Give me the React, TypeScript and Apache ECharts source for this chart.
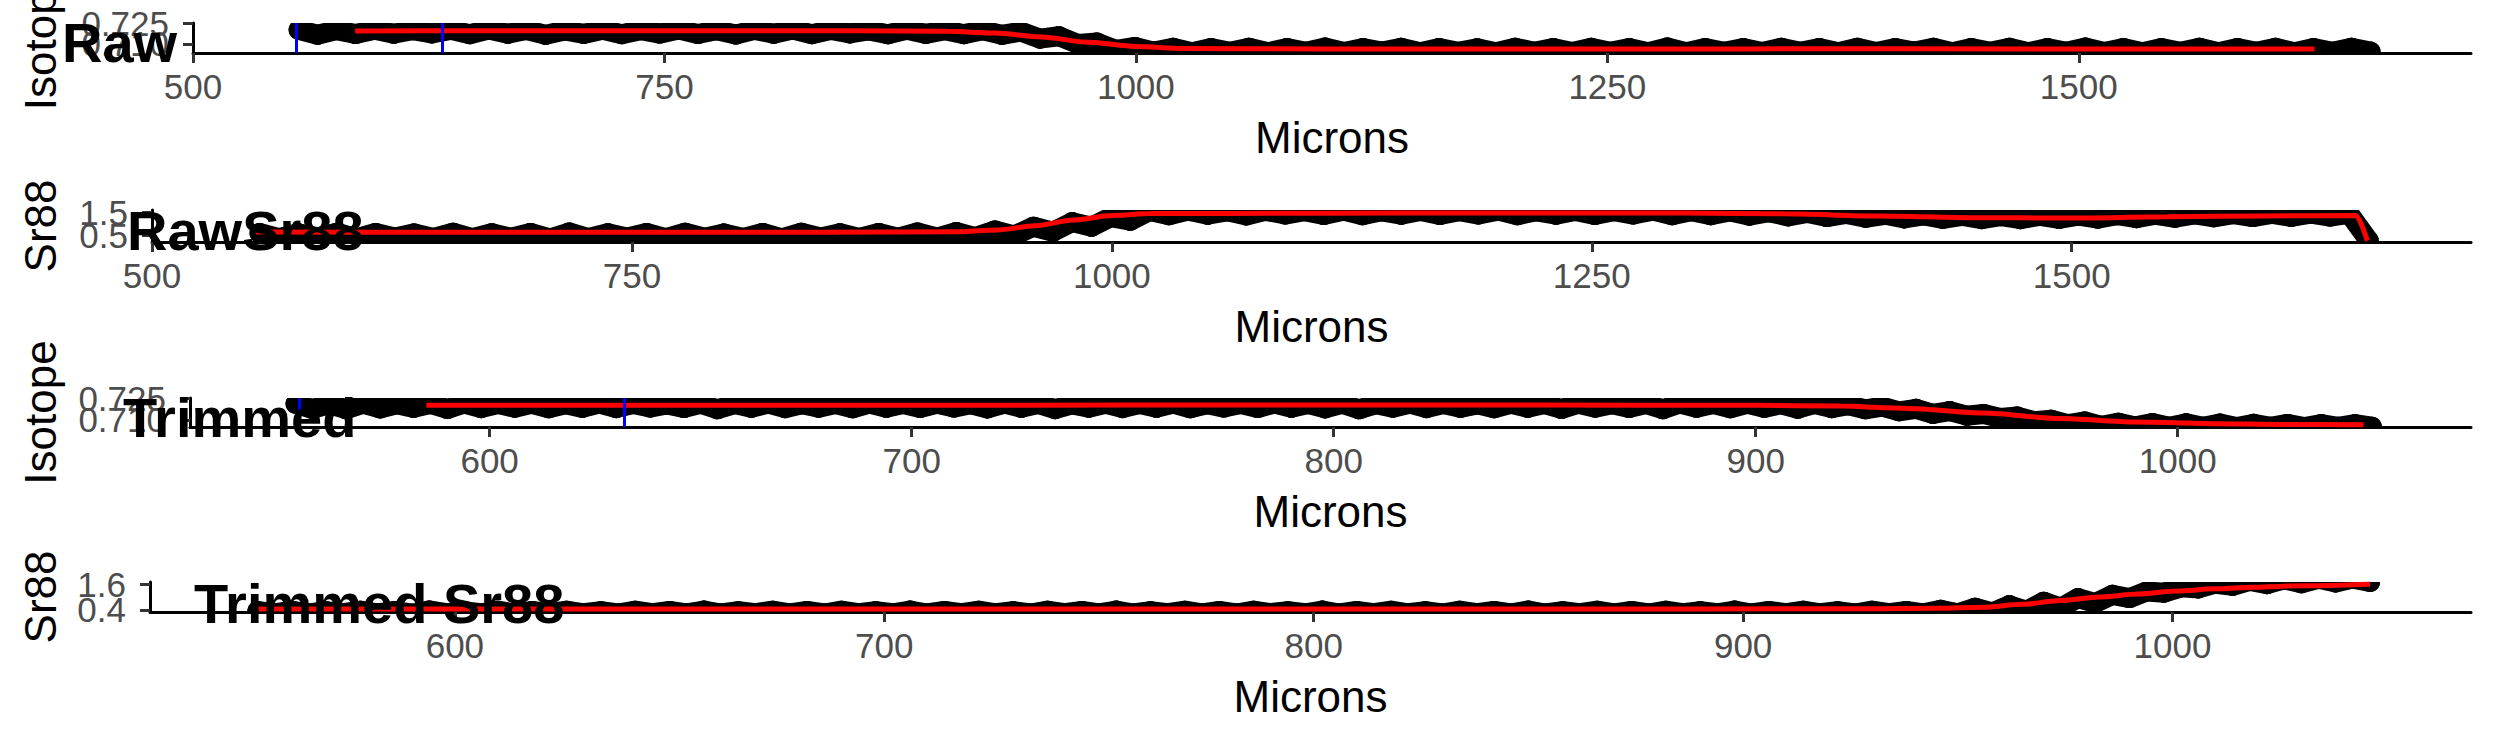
import React, { useEffect, useRef } from "react";
import * as echarts from "echarts";

const FONT = "'Liberation Sans', Arial, Helvetica, sans-serif";

// ---------- data ----------
const RAW_START = 556;
const RAW_STEP = 10.08;
const TRIM_START = 554;
const TRIM_STEP = 4;

const rawIsotope = [
  0.7201, 0.7166, 0.7199, 0.7171, 0.7202, 0.7173, 0.7198, 0.7175, 0.7201, 0.717,
  0.7203, 0.7173, 0.72, 0.7165, 0.7197, 0.7172, 0.7202, 0.717, 0.7199, 0.7174,
  0.7203, 0.7171, 0.7198, 0.7167, 0.7201, 0.7173, 0.7203, 0.717, 0.72, 0.7175,
  0.7197, 0.7169, 0.7202, 0.7172, 0.7199, 0.717, 0.7198, 0.7165,
  0.7188, 0.7138, 0.7155, 0.71, 0.711, 0.7058, 0.7078,
  0.7045, 0.7072, 0.7041, 0.707, 0.7043, 0.7073, 0.704, 0.7071, 0.7044, 0.7074,
  0.7042, 0.707, 0.7045, 0.7072, 0.7041, 0.7071, 0.7043, 0.7069, 0.704, 0.7073,
  0.7044, 0.7071, 0.7042, 0.7072, 0.7043, 0.707, 0.7041, 0.7074, 0.704, 0.7071,
  0.7044, 0.707, 0.7042, 0.7073, 0.7043, 0.7071, 0.704, 0.7072, 0.7042, 0.707,
  0.7045, 0.7073, 0.7041, 0.7071, 0.7043, 0.7072, 0.704, 0.707, 0.7044, 0.7074,
  0.7042, 0.7071, 0.7041, 0.707, 0.7043, 0.7073, 0.704, 0.7071, 0.7044, 0.7072,
  0.7041, 0.707, 0.7043, 0.7073, 0.7045,
];

const rawSr88 = [
  0.59, 0.36, 0.58, 0.38, 0.6, 0.35, 0.59, 0.39, 0.57, 0.37,
  0.6, 0.36, 0.58, 0.38, 0.59, 0.35, 0.61, 0.37, 0.58, 0.39,
  0.59, 0.36, 0.6, 0.38, 0.57, 0.37, 0.59, 0.35, 0.6, 0.39,
  0.58, 0.37, 0.59, 0.38, 0.61, 0.39, 0.63, 0.41,
  0.7, 0.48, 0.86, 0.64, 1.06, 0.86, 1.28, 1.12,
  1.54, 1.36, 1.56, 1.38, 1.53, 1.35, 1.55, 1.39, 1.54, 1.37,
  1.56, 1.36, 1.53, 1.38, 1.55, 1.37, 1.54, 1.39, 1.56, 1.36,
  1.53, 1.38, 1.55, 1.37, 1.54, 1.39, 1.56, 1.36, 1.53, 1.36,
  1.52, 1.34, 1.49, 1.31,
  1.46, 1.28, 1.42, 1.25, 1.38, 1.22, 1.35, 1.2, 1.33, 1.19,
  1.32, 1.19, 1.33, 1.2, 1.34, 1.21, 1.36, 1.23, 1.38, 1.25,
  1.4, 1.27, 1.41, 1.28, 1.42, 1.29, 1.43, 1.3, 1.42, 0.26,
];

const trimmedIsotope = [
  0.721, 0.7174, 0.7208, 0.7172, 0.7211, 0.7178, 0.7207, 0.7182, 0.7209, 0.7174,
  0.7212, 0.718, 0.7208, 0.7183, 0.721, 0.7179, 0.7207, 0.7182, 0.7211, 0.718,
  0.7209, 0.7184, 0.7206, 0.7181, 0.721, 0.7172, 0.7208, 0.7182, 0.7211, 0.718,
  0.7207, 0.7183, 0.7209, 0.7179, 0.7212, 0.7182, 0.7208, 0.7181, 0.721, 0.7184,
  0.7207, 0.7178, 0.7211, 0.7182, 0.7209, 0.7173, 0.7206, 0.7183, 0.721, 0.718,
  0.7208, 0.7182, 0.7211, 0.7179, 0.7207, 0.7184, 0.7209, 0.7181, 0.7212, 0.7182,
  0.7208, 0.7178, 0.721, 0.7172, 0.7207, 0.7183, 0.7211, 0.718, 0.7209, 0.7182,
  0.7206, 0.7179, 0.721, 0.7182, 0.7208, 0.7174, 0.7211, 0.7183, 0.7207, 0.7181,
  0.7209, 0.7172, 0.7212, 0.7182, 0.7208, 0.7179, 0.721, 0.7182, 0.7207, 0.7176,
  0.7209, 0.718, 0.72, 0.7172, 0.719, 0.7158, 0.7175, 0.714, 0.716, 0.7128,
  0.714, 0.7112, 0.7122, 0.709, 0.71, 0.707, 0.7088, 0.7058, 0.708, 0.7054,
  0.7077, 0.7052, 0.7075, 0.7051, 0.7074, 0.705, 0.7072, 0.7051, 0.7071, 0.705,
  0.707, 0.7051, 0.7069, 0.7052,
];

const trimmedSr88 = [
  0.35, 0.24, 0.36, 0.23, 0.34, 0.25, 0.36, 0.24, 0.35, 0.22,
  0.37, 0.25, 0.34, 0.24, 0.36, 0.23, 0.35, 0.25, 0.36, 0.24,
  0.34, 0.23, 0.36, 0.25, 0.35, 0.24, 0.37, 0.23, 0.34, 0.25,
  0.36, 0.24, 0.35, 0.23, 0.36, 0.25, 0.34, 0.24, 0.37, 0.23,
  0.35, 0.25, 0.36, 0.24, 0.34, 0.23, 0.36, 0.25, 0.35, 0.24,
  0.37, 0.23, 0.34, 0.25, 0.36, 0.24, 0.35, 0.23, 0.36, 0.25,
  0.34, 0.24, 0.37, 0.23, 0.35, 0.25, 0.36, 0.24, 0.34, 0.23,
  0.36, 0.25, 0.35, 0.24, 0.37, 0.23, 0.34, 0.25, 0.36, 0.24,
  0.35, 0.23, 0.36, 0.25, 0.34, 0.24, 0.37, 0.23, 0.35, 0.25,
  0.36, 0.24, 0.34, 0.23, 0.36, 0.25, 0.35, 0.24,
  0.4, 0.24, 0.5, 0.28, 0.62, 0.36, 0.78, 0.5, 0.95, 0.72,
  1.1, 0.95, 1.26, 1.2, 1.45, 1.4, 1.62, 1.52, 1.75, 1.6,
  1.82, 1.64, 1.85, 1.68, 1.86, 1.7,
];

// smoothed fits (red)
const rawIsotopeFitX = [586, 650, 750, 850, 900, 925, 950, 975, 1000, 1025, 1100, 1250, 1400, 1550, 1625];
const rawIsotopeFitY = [0.7193, 0.7194, 0.7195, 0.7194, 0.719, 0.7178, 0.715, 0.7112, 0.7082, 0.7068, 0.7064, 0.7064, 0.7065, 0.7064, 0.7064];

const rawSr88FitX = [554, 650, 750, 850, 920, 940, 960, 980, 1000, 1020, 1100, 1200, 1300, 1350, 1400, 1450, 1500, 1550, 1600, 1648, 1654];
const rawSr88FitY = [0.63, 0.62, 0.62, 0.62, 0.64, 0.72, 0.9, 1.15, 1.35, 1.43, 1.45, 1.46, 1.46, 1.42, 1.33, 1.25, 1.24, 1.29, 1.33, 1.35, 0.25];

const trimmedIsotopeFitX = [585, 650, 750, 850, 900, 920, 936, 954, 972, 990, 1009, 1025, 1044];
const trimmedIsotopeFitY = [0.72, 0.72, 0.7201, 0.7201, 0.72, 0.7194, 0.7178, 0.7147, 0.7108, 0.7084, 0.7073, 0.7068, 0.7066];

const trimmedSr88FitX = [554, 650, 750, 850, 930, 945, 956, 965, 974, 983, 992, 1001, 1010, 1019, 1030, 1046];
const trimmedSr88FitY = [0.44, 0.44, 0.44, 0.44, 0.45, 0.47, 0.52, 0.66, 0.84, 1.0, 1.14, 1.28, 1.38, 1.46, 1.53, 1.6];

const windowMarks = [555, 632];

// tick labels
const rawXTicks = [500, 750, 1000, 1250, 1500];
const trimXTicks = [600, 700, 800, 900, 1000];
const isotopeYTicks = [0.71, 0.715, 0.72, 0.725];
const rawSr88YTicks = [0.5, 1.0, 1.5];
const trimSr88YTicks = [0.4, 0.8, 1.2, 1.6];

const titles = ["Raw", "RawSr88", "Trimmed", "Trimmed Sr88"];
const yNames = ["Isotope", "Sr88", "Isotope", "Sr88"];

const seq = (start: number, step: number, vals: number[]) => vals.map((v, i) => [start + step * i, v]);
const zip = (xs: number[], ys: number[]) => xs.map((x, i) => [x, ys[i]]);

const POINT = 20;

export default function App() {
  const ref = useRef<HTMLDivElement>(null);
  useEffect(() => {
    if (!ref.current) return;
    const chart = echarts.init(ref.current, null, { renderer: "svg" });

    const layout = [
      { left: 193, top: 23, width: 2278, height: 30, xMin: 500, xMax: 1708, yMin: 0.7035, yMax: 0.725, nameGap: 131, tLeft: 62, tTop: 14 },
      { left: 152, top: 210, width: 2319, height: 32, xMin: 500, xMax: 1708, yMin: 0.196, yMax: 1.587, nameGap: 90, tLeft: 127, tTop: 202 },
      { left: 190, top: 398, width: 2281, height: 29, xMin: 529, xMax: 1069.5, yMin: 0.705, yMax: 0.725, nameGap: 128, tLeft: 123, tTop: 389 },
      { left: 150, top: 582, width: 2321, height: 30, xMin: 529, xMax: 1069.5, yMin: 0.3, yMax: 1.7, nameGap: 88, tLeft: 194, tTop: 575 },
    ];
    const xTicks = [rawXTicks, rawXTicks, trimXTicks, trimXTicks];
    const yTicks = [isotopeYTicks, rawSr88YTicks, isotopeYTicks, trimSr88YTicks];
    const yDigits = [3, 1, 3, 1];
    const points = [
      seq(RAW_START, RAW_STEP, rawIsotope),
      seq(RAW_START, RAW_STEP, rawSr88),
      seq(TRIM_START, TRIM_STEP, trimmedIsotope),
      seq(TRIM_START, TRIM_STEP, trimmedSr88),
    ];
    const fits = [
      zip(rawIsotopeFitX, rawIsotopeFitY),
      zip(rawSr88FitX, rawSr88FitY),
      zip(trimmedIsotopeFitX, trimmedIsotopeFitY),
      zip(trimmedSr88FitX, trimmedSr88FitY),
    ];
    const hasMarks = [true, false, true, false];

    const series: any[] = [];
    layout.forEach((_, i) => {
      const data = points[i];
      series.push({
        type: "custom",
        xAxisIndex: i,
        yAxisIndex: i,
        data,
        encode: { x: 0, y: 1 },
        clip: true,
        silent: true,
        z: 2,
        renderItem: (params: any, api: any) => {
          const idx = params.dataIndex;
          const cur = api.coord(data[idx]);
          const prev = idx > 0 ? api.coord(data[idx - 1]) : cur;
          return {
            type: "group",
            children: [
              {
                type: "line",
                shape: { x1: prev[0], y1: prev[1], x2: cur[0], y2: cur[1] },
                style: { stroke: "#000000", lineWidth: POINT, lineCap: "round" },
              },
              {
                type: "circle",
                shape: { cx: cur[0], cy: cur[1], r: POINT / 2 },
                style: { fill: "#000000" },
              },
            ],
          };
        },
      });
      const red: any = {
        type: "line",
        xAxisIndex: i,
        yAxisIndex: i,
        data: fits[i],
        smooth: 0.3,
        smoothMonotone: "x",
        symbol: "none",
        lineStyle: { color: "#FF0000", width: 5 },
        clip: true,
        silent: true,
        z: 3,
      };
      if (hasMarks[i]) {
        red.markLine = {
          silent: true,
          symbol: ["none", "none"],
          label: { show: false },
          lineStyle: { color: "#0000FF", width: 3, type: "solid" },
          data: windowMarks.map((v) => ({ xAxis: v })),
        };
      }
      series.push(red);
    });

    const option: any = {
      animation: false,
      backgroundColor: "#ffffff",
      title: layout.map((l, i) => ({
        text: titles[i],
        left: l.tLeft,
        top: l.tTop,
        padding: 0,
        textStyle: { fontSize: 56, fontWeight: "bold", color: "#000000", fontFamily: FONT },
      })),
      grid: layout.map((l) => ({
        left: l.left,
        top: l.top,
        width: l.width,
        height: l.height,
        containLabel: false,
        outerBoundsMode: "none",
      })),
      xAxis: layout.map((l, i) => ({
        type: "value",
        gridIndex: i,
        min: l.xMin,
        max: l.xMax,
        axisLine: { show: true, onZero: false, lineStyle: { color: "#000000", width: 3 } },
        axisTick: { show: true, length: 10, customValues: xTicks[i], lineStyle: { color: "#333333", width: 3 } },
        axisLabel: {
          customValues: xTicks[i],
          fontSize: 35,
          color: "#4D4D4D",
          margin: 16,
          fontFamily: FONT,
          hideOverlap: false,
          showMinLabel: true,
          showMaxLabel: true,
          formatter: (v: number) => String(v),
        },
        splitLine: { show: false },
        name: "Microns",
        nameLocation: "middle",
        nameGap: 62,
        nameTextStyle: { fontSize: 44, color: "#000000", fontFamily: FONT },
      })),
      yAxis: layout.map((l, i) => ({
        type: "value",
        gridIndex: i,
        min: l.yMin,
        max: l.yMax,
        axisLine: { show: true, onZero: false, lineStyle: { color: "#000000", width: 3 } },
        axisTick: { show: true, length: 10, customValues: yTicks[i], lineStyle: { color: "#333333", width: 3 } },
        axisLabel: {
          customValues: yTicks[i],
          fontSize: 35,
          color: "#4D4D4D",
          margin: 24,
          fontFamily: FONT,
          hideOverlap: false,
          showMinLabel: true,
          showMaxLabel: true,
          formatter: (v: number) => v.toFixed(yDigits[i]),
        },
        splitLine: { show: false },
        name: yNames[i],
        nameLocation: "middle",
        nameRotate: 90,
        nameGap: l.nameGap,
        nameTextStyle: { fontSize: 44, color: "#000000", fontFamily: FONT },
      })),
      series,
    };
    chart.setOption(option);
    return () => chart.dispose();
  }, []);
  return (
    <div
      ref={ref}
      style={{ position: "absolute", left: 0, top: 0, width: 2495, height: 749, background: "#ffffff" }}
    />
  );
}
